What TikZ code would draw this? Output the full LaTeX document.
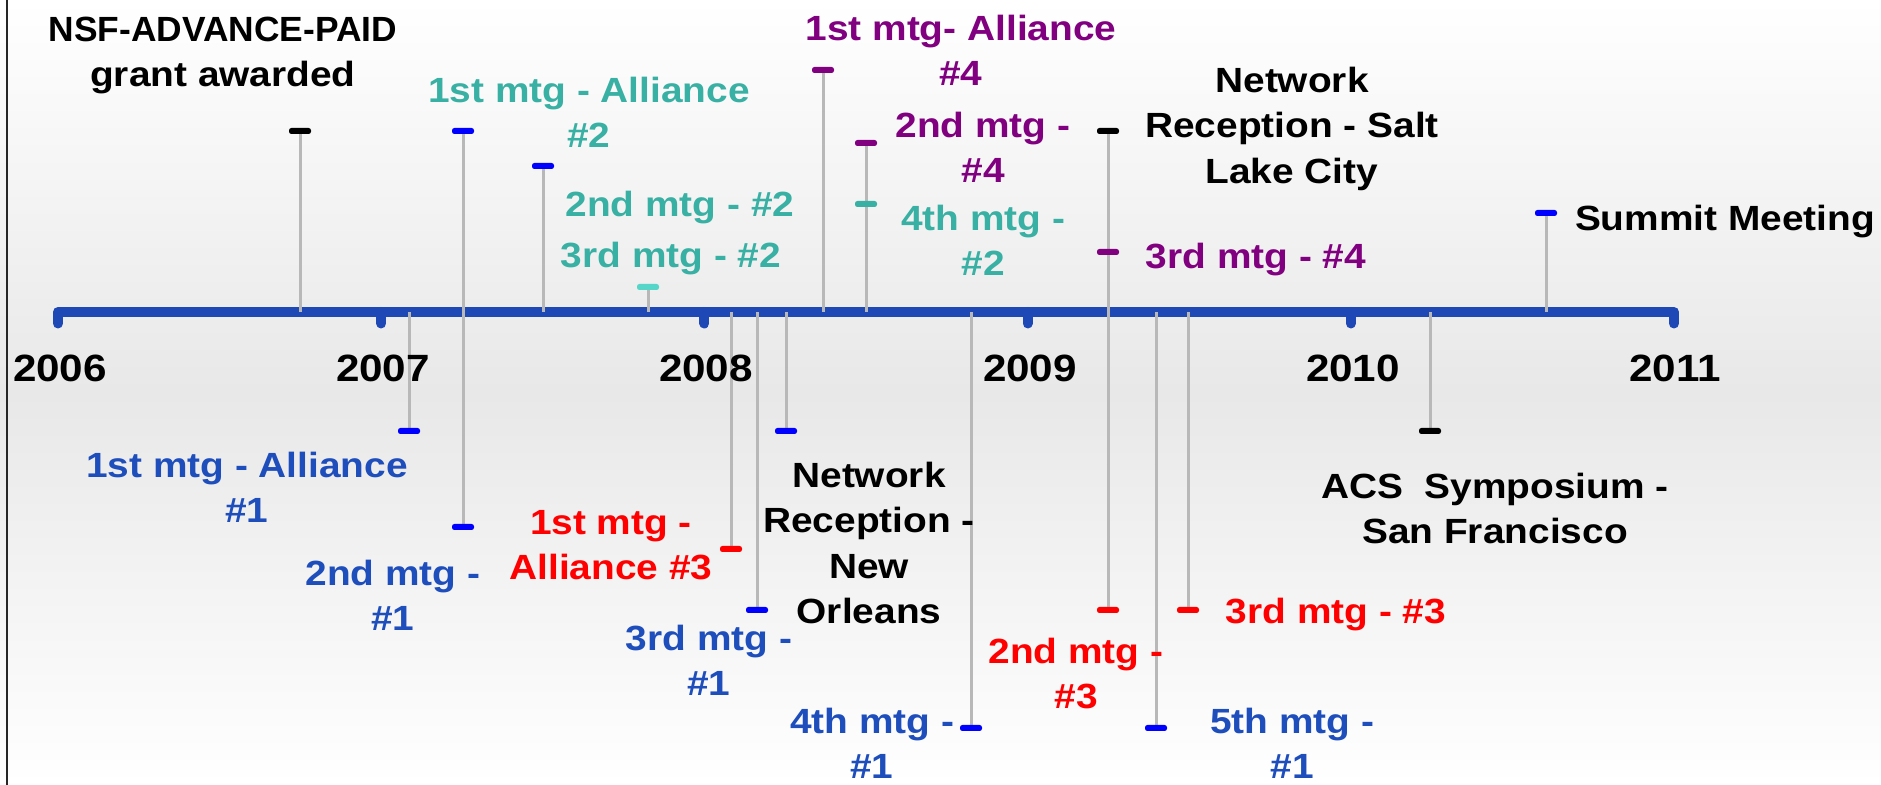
\documentclass[tikz,border=0pt]{standalone}
\usepackage{fontspec}
\setmainfont{Liberation Sans}[FakeStretch=1.11]
\newfontfamily\capsfont{Liberation Sans}[FakeStretch=1.01]

\definecolor{axisblue}{RGB}{29,72,181}
\definecolor{txtblue}{RGB}{30,78,188}
\definecolor{tealtxt}{RGB}{56,176,163}
\definecolor{aqua}{RGB}{85,214,200}
\definecolor{plum}{RGB}{128,0,128}
\definecolor{stemgray}{RGB}{184,184,184}
\definecolor{mkblue}{RGB}{0,0,255}
\definecolor{bggray}{RGB}{232,232,232}

\pgfdeclarelayer{back}
\pgfdeclarelayer{stems}
\pgfsetlayers{back,stems,main}

\begin{document}
\begin{tikzpicture}[x=0.5pt,y=-0.5pt,
  evbar/.style={rectangle, fill=#1, draw=none, rounded corners=1.2pt,
    minimum width=11pt, minimum height=3pt, inner sep=0pt, outer sep=0pt},
  evstem/.style={draw=stemgray, line width=1.5pt},
  evlabel/.style={font=\bfseries\fontsize{17.5}{22.75}\selectfont, text=#1,
    align=center, anchor=north, inner sep=0pt, outer sep=0pt},
  yearlabel/.style={font=\bfseries\fontsize{19}{22}\selectfont,
    anchor=north, inner sep=0pt, outer sep=0pt},
  axisline/.style={draw=axisblue, line width=5pt, line cap=round, line join=round}]

\useasboundingbox (0,0) rectangle (1881,785);

% backdrop and frame edge
\begin{pgfonlayer}{back}
  \shade[top color=white, bottom color=white, middle color=bggray] (0,0) rectangle (1881,785);
  \draw[line width=1pt, black!85] (6.5,0) -- (6.5,785);
\end{pgfonlayer}

% time axis
\coordinate (axis) at (0,312);
\coordinate (y2006) at (58,312);
\coordinate (y2007) at (381.2,312);
\coordinate (y2008) at (704.4,312);
\coordinate (y2009) at (1027.6,312);
\coordinate (y2010) at (1350.8,312);
\coordinate (y2011) at (1674,312);

\begin{pgfonlayer}{back}
  \draw[axisline] (y2006) ++(0,11.5) -- (y2006) -- (y2011) -- ++(0,11.5);
  \foreach \yr in {y2007,y2008,y2009,y2010}
    \draw[axisline] (\yr) -- ++(0,11.5);
\end{pgfonlayer}

\node[yearlabel] (t2006) at (60,355) {2006};
\node[yearlabel] (t2007) at (383,355) {2007};
\node[yearlabel] (t2008) at (706,355) {2008};
\node[yearlabel] (t2009) at (1030,355) {2009};
\node[yearlabel] (t2010) at (1353,355) {2010};
\node[yearlabel] (t2011) at (1675,355) {2011};

% event markers above the axis
\node[evbar=black]  (m-nsf) at (300,131) {};
\node[evbar=mkblue] (m-a2a) at (463,131) {};
\node[evbar=mkblue] (m-a2b) at (543,166) {};
\node[evbar=aqua]   (m-a2c) at (648,287) {};
\node[evbar=plum]   (m-a4a) at (823,70) {};
\node[evbar=plum]   (m-a4b) at (866,143) {};
\node[evbar=tealtxt](m-a2d) at (866,204) {};
\node[evbar=black]  (m-slc) at (1108,131) {};
\node[evbar=plum]   (m-a4c) at (1108,252) {};
\node[evbar=mkblue] (m-sum) at (1546,213) {};

% event markers below the axis
\node[evbar=mkblue] (m-a1a) at (409,431) {};
\node[evbar=mkblue] (m-a1b) at (463,527) {};
\node[evbar=red]    (m-a3a) at (731,549) {};
\node[evbar=mkblue] (m-a1c) at (757,610) {};
\node[evbar=mkblue] (m-nol) at (786,431) {};
\node[evbar=mkblue] (m-a1d) at (971,728) {};
\node[evbar=red]    (m-a3b) at (1108,610) {};
\node[evbar=mkblue] (m-a1e) at (1156,728) {};
\node[evbar=red]    (m-a3c) at (1188,610) {};
\node[evbar=black]  (m-acs) at (1430,431) {};

% stems joining markers to the axis
\begin{pgfonlayer}{stems}
  \foreach \m in {m-nsf,m-a2a,m-a2b,m-a2c,m-a4a,m-a4b,m-a2d,m-slc,m-a4c,m-sum}
    \draw[evstem] (\m.south) -- (\m.south |- axis);
  \foreach \m in {m-a1a,m-a1b,m-a3a,m-a1c,m-nol,m-a1d,m-a3b,m-a1e,m-a3c,m-acs}
    \draw[evstem] (\m.north) -- (\m.north |- axis);
\end{pgfonlayer}

% labels above the axis
\node[evlabel=black]   (l-nsf) at (223,17) {{\capsfont NSF-ADVANCE-PAID}\\grant awarded};
\node[evlabel=tealtxt] (l-a2a) at (589,77) {1st mtg - Alliance\\\#2};
\node[evlabel=tealtxt] (l-a2b) at (680,191) {2nd mtg - \#2};
\node[evlabel=tealtxt] (l-a2c) at (671,242) {3rd mtg - \#2};
\node[evlabel=plum]    (l-a4a) at (961,15) {1st mtg- Alliance\\\#4};
\node[evlabel=plum]    (l-a4b) at (983,112) {2nd mtg -\\\#4};
\node[evlabel=tealtxt] (l-a2d) at (983,205) {4th mtg -\\\#2};
\node[evlabel=black]   (l-slc) at (1292,67) {Network\\Reception - Salt\\Lake City};
\node[evlabel=plum]    (l-a4c) at (1256,243) {3rd mtg - \#4};
\node[evlabel=black]   (l-sum) at (1725,205) {Summit Meeting};

% labels below the axis
\node[evlabel=txtblue] (l-a1a) at (247,452) {1st mtg - Alliance\\\#1};
\node[evlabel=txtblue] (l-a1b) at (393,560) {2nd mtg -\\\#1};
\node[evlabel=red]     (l-a3a) at (611,510) {1st mtg -\\Alliance \#3};
\node[evlabel=txtblue] (l-a1c) at (709,625) {3rd mtg -\\\#1};
\node[evlabel=black]   (l-nol) at (869,462) {Network\\Reception -\\New\\Orleans};
\node[evlabel=txtblue] (l-a1d) at (872,708) {4th mtg -\\\#1};
\node[evlabel=red]     (l-a3b) at (1076,638) {2nd mtg -\\\#3};
\node[evlabel=txtblue] (l-a1e) at (1292,708) {5th mtg -\\\#1};
\node[evlabel=red]     (l-a3c) at (1336,598) {3rd mtg - \#3};
\node[evlabel=black]   (l-acs) at (1495,473) {ACS~ Symposium -\\San Francisco};

\end{tikzpicture}
\end{document}
